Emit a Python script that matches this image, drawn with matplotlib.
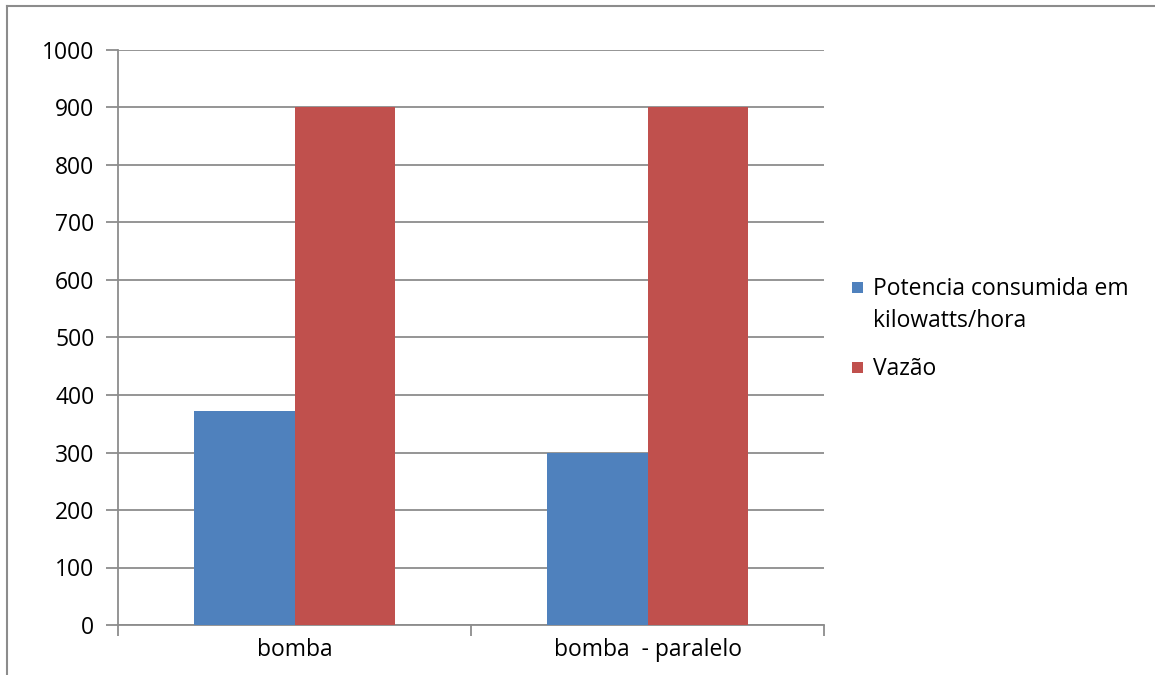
import numpy as np
import matplotlib.pyplot as plt
from matplotlib.lines import Line2D
from matplotlib.patches import Rectangle

# --- Data ---
categories = ['bomba', 'bomba  - paralelo']
potencia = [372, 300]
vazao = [900, 900]
series_names = ['Potencia consumida em\nkilowatts/hora', 'Vazão']
colors = ['#4F81BD', '#C0504D']

plt.rcParams['font.family'] = ['Open Sans', 'DejaVu Sans']
fs = 16.5

W, H = 1155, 675
fig = plt.figure(figsize=(W / 100, H / 100), dpi=100)
ax = fig.add_axes([118 / W, 1 - 625 / H, (824 - 118) / W, (625 - 50) / H])

x = np.arange(len(categories))
bw = 0.286
ax.bar(x - bw / 2, potencia, bw, color=colors[0], zorder=3)
ax.bar(x + bw / 2, vazao, bw, color=colors[1], zorder=3)

ax.set_xlim(-0.5, 1.5)
ax.set_ylim(0, 1000)
ax.set_yticks(np.arange(0, 1001, 100))
ax.yaxis.grid(True, color='#8C8C8C', linewidth=1.3, zorder=0)
ax.set_axisbelow(True)

# category labels between boundary tick marks
ax.set_xticks([-0.5, 0.5, 1.5])
ax.set_xticklabels([])
ax.set_xticks(x, minor=True)
ax.set_xticklabels(categories, minor=True, fontsize=fs)
ax.tick_params(axis='x', which='minor', length=0, pad=9)
ax.tick_params(axis='x', which='major', length=8, color='#8C8C8C', width=1.3)
ax.tick_params(axis='y', length=9, color='#8C8C8C', width=1.3, labelsize=fs, pad=8)

for s in ['top', 'right']:
    ax.spines[s].set_visible(False)
for s in ['left', 'bottom']:
    ax.spines[s].set_color('#8C8C8C')
    ax.spines[s].set_linewidth(1.3)

# legend: square aligned with the first text line, like Excel does
sq = 11
for name, col, y0 in zip(series_names, colors, [287, 367]):
    fig.add_artist(Rectangle((852 / W, 1 - (y0 + sq / 2) / H), sq / W, sq / H,
                             facecolor=col, edgecolor='none'))
    fig.text(873 / W, 1 - (y0 - 10) / H, name, fontsize=fs, va='top',
             ha='left', linespacing=1.45)

# chart area border
fig.add_artist(Line2D([7 / W, 1], [1 - 6 / H, 1 - 6 / H], color='#8C8C8C', linewidth=1.5))
fig.add_artist(Line2D([7 / W, 7 / W], [0, 1 - 6 / H], color='#8C8C8C', linewidth=1.5))

fig.savefig('out.png', dpi=100)
